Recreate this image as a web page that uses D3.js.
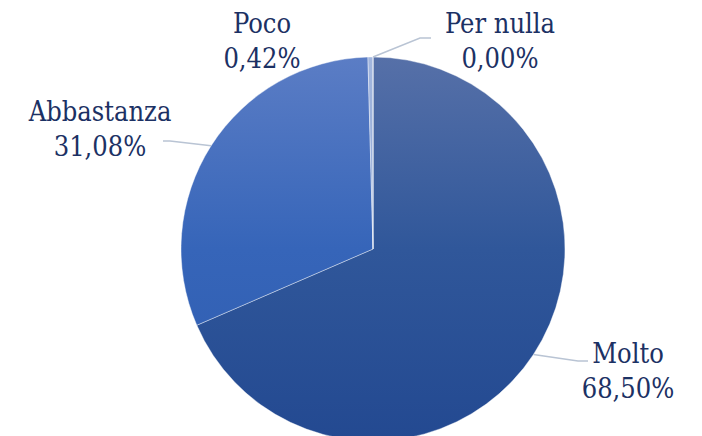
<!DOCTYPE html>
<html>
<head>
<meta charset="utf-8">
<script src="https://cdn.jsdelivr.net/npm/d3@7"></script>
<style>
  html, body { margin: 0; padding: 0; background: #fff; }
  svg { display: block; }
</style>
</head>
<body>
<div id="chart"></div>
<script>
// Data
const categories = ['Molto', 'Abbastanza', 'Poco', 'Per nulla'];
const values = [68.50, 31.08, 0.42, 0.00];
const labels = ['68,50%', '31,08%', '0,42%', '0,00%'];

// Gradient colours per slice (top, middle, bottom)
const colorsTop = ['#5670a8', '#5b7dc5', '#a2b6de', '#a2b6de'];
const colorsMid = ['#30579a', '#3665b9', '#90a8d6', '#90a8d6'];
const colorsBottom = ['#234991', '#2e5caf', '#8aa3d4', '#8aa3d4'];

// Label layout: text centre and elbow of leader line
const labelPos = [
  { x: 628, y: 356, elbow: [578, 361], end: [588, 361] },
  { x: 100, y: 114, elbow: [170, 141], end: [163, 141] },
  { x: 262, y: 26, elbow: null, end: null },
  { x: 500, y: 26, elbow: [420, 38], end: [431, 38] }
];

const width = 702, height = 436;
const cx = 373, cy = 249, radius = 192;
const fontFamily = 'DejaVu Serif, Liberation Serif, serif';

const svg = d3.select('#chart').append('svg')
  .attr('width', width)
  .attr('height', height);

// gradients live in the slice group's coordinate space (centred on 0,0)
const defs = svg.append('defs');
categories.forEach((c, i) => {
  const g = defs.append('linearGradient')
    .attr('id', 'grad' + i)
    .attr('gradientUnits', 'userSpaceOnUse')
    .attr('x1', 0).attr('x2', 0)
    .attr('y1', -radius).attr('y2', radius);
  g.append('stop').attr('offset', '0%').attr('stop-color', colorsTop[i]);
  g.append('stop').attr('offset', '50%').attr('stop-color', colorsMid[i]);
  g.append('stop').attr('offset', '100%').attr('stop-color', colorsBottom[i]);
});

const pie = d3.pie().sort(null).value(d => d);
const arcs = pie(values);
const arc = d3.arc().innerRadius(0).outerRadius(radius);
const edge = d3.arc().innerRadius(radius).outerRadius(radius);

const g = svg.append('g').attr('transform', `translate(${cx},${cy})`);

g.selectAll('path.slice')
  .data(arcs)
  .enter().append('path')
  .attr('class', 'slice')
  .attr('d', arc)
  .attr('fill', (d, i) => `url(#grad${i})`)
  .attr('stroke', '#ffffff')
  .attr('stroke-opacity', 0.5)
  .attr('stroke-width', 0.8);

// Leader lines
arcs.forEach((d, i) => {
  const lp = labelPos[i];
  if (!lp.elbow) return;
  const [ex, ey] = edge.centroid(d);
  const pts = [[cx + ex, cy + ey], lp.elbow, lp.end];
  svg.append('path')
    .attr('d', d3.line()(pts))
    .attr('fill', 'none')
    .attr('stroke', '#b9c4d4')
    .attr('stroke-width', 1.5);
});

// Labels
categories.forEach((c, i) => {
  const lp = labelPos[i];
  const t = svg.append('text')
    .attr('text-anchor', 'middle')
    .attr('font-family', fontFamily)
    .attr('font-size', 27)
    .style('font-stretch', 'condensed')
    .attr('fill', '#1c3164');
  t.append('tspan').attr('x', lp.x).attr('y', lp.y + 7).text(c);
  t.append('tspan').attr('x', lp.x).attr('y', lp.y + 42).text(labels[i]);
});
</script>
</body>
</html>
